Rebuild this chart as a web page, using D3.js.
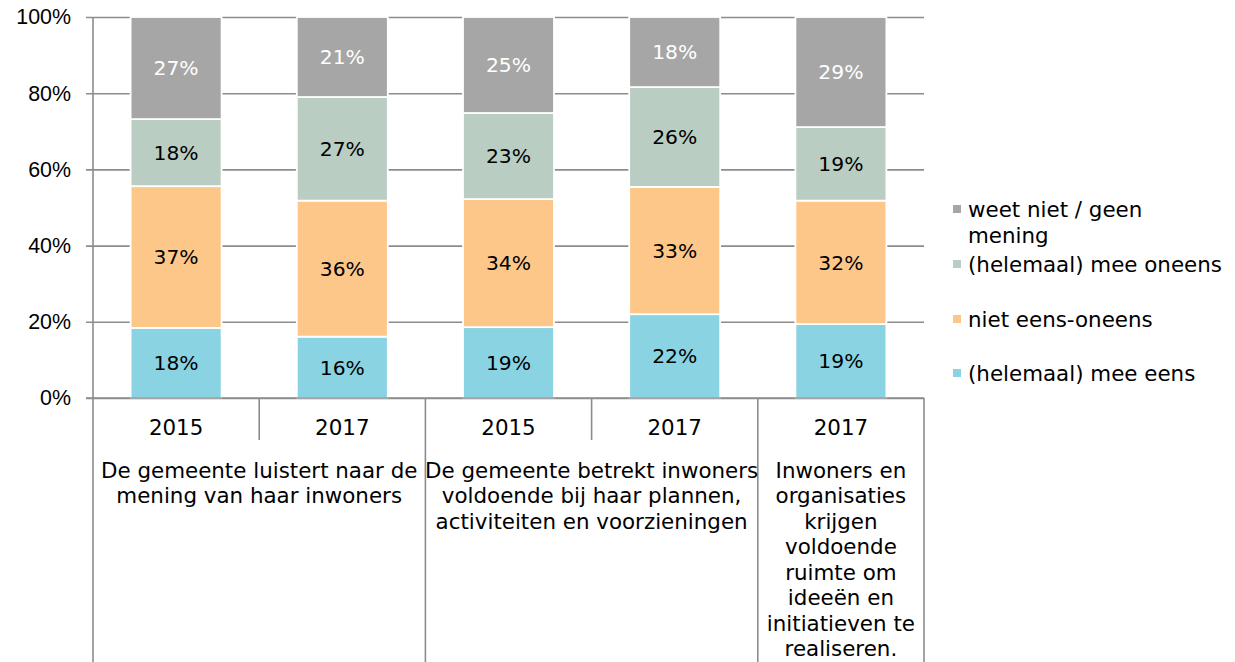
<!DOCTYPE html>
<html>
<head>
<meta charset="utf-8">
<script src="https://cdn.jsdelivr.net/npm/d3@7"></script>
<style>
  html, body { margin: 0; padding: 0; background: #fff; }
  svg { display: block; font-family: "DejaVu Sans", Verdana, sans-serif; }
</style>
</head>
<body>
<svg id="chart" width="1235" height="662"></svg>
<script>
// Survey answers per bar (percentages), bottom to top in the stack
const years = ["2015", "2017", "2015", "2017", "2017"];
const groupOf = [0, 0, 1, 1, 2];
const groupLines = [
  ["De gemeente luistert naar de", "mening van haar inwoners"],
  ["De gemeente betrekt inwoners", "voldoende bij haar plannen,", "activiteiten en voorzieningen"],
  ["Inwoners en", "organisaties", "krijgen", "voldoende", "ruimte om", "ideeën en", "initiatieven te", "realiseren."]
];
const eens      = [18.4, 16.1, 18.6, 22.0, 19.4];
const neutraal  = [37.2, 35.7, 33.6, 33.4, 32.4];
const oneens    = [17.6, 27.2, 22.6, 26.2, 19.3];
const weetNiet  = [26.8, 21.0, 25.2, 18.4, 28.9];
const seriesNames = ["(helemaal) mee eens", "niet eens-oneens", "(helemaal) mee oneens", "weet niet / geen mening"];
const seriesColors = ["#89d3e3", "#fec78a", "#b9cdc2", "#a6a6a6"];
const labelColors = ["#000", "#000", "#000", "#fff"];
const yTicks = [0, 20, 40, 60, 80, 100];

const svg = d3.select("#chart");
const plotL = 93, plotR = 924, plotT = 17, plotB = 398;
const gridColor = "#8c8c8c";
const fs = 21.4;

const x = d3.scaleBand().domain(d3.range(years.length)).range([plotL, plotR]).paddingInner(0).paddingOuter(0);
const y = d3.scaleLinear().domain([0, 100]).range([plotB, plotT]);

const rows = years.map((yr, i) => ({ i, s0: eens[i], s1: neutraal[i], s2: oneens[i], s3: weetNiet[i] }));
const stack = d3.stack().keys(["s0", "s1", "s2", "s3"])(rows);

// horizontal gridlines with left tick marks
const yAxis = d3.axisLeft(y).tickValues(yTicks).tickFormat(d => d + "%").tickSize(-(plotR - plotL));
const ga = svg.append("g").attr("transform", `translate(${plotL},0)`).call(yAxis);
ga.select(".domain").remove();
ga.selectAll(".tick line").attr("stroke", gridColor).attr("stroke-width", 1.6).attr("x1", -7);
ga.selectAll(".tick text").attr("font-size", fs).attr("fill", "#000").attr("x", -22);

// vertical axis line
svg.append("line").attr("x1", plotL).attr("x2", plotL).attr("y1", plotT).attr("y2", plotB)
  .attr("stroke", gridColor).attr("stroke-width", 1.6);

// stacked bars
const barW = 91;
const layers = svg.append("g").selectAll("g").data(stack).join("g")
  .attr("fill", (d, k) => seriesColors[k]);
layers.selectAll("rect").data(d => d).join("rect")
  .attr("x", (d, i) => x(i) + x.bandwidth() / 2 - barW / 2)
  .attr("width", barW)
  .attr("y", d => y(d[1]))
  .attr("height", d => y(d[0]) - y(d[1]))
  .attr("stroke", "#fff").attr("stroke-width", 1.8);

// value labels
stack.forEach((layer, k) => {
  svg.append("g").selectAll("text").data(layer).join("text")
    .attr("x", (d, i) => x(i) + x.bandwidth() / 2)
    .attr("y", d => y((d[0] + d[1]) / 2))
    .attr("dy", "0.36em")
    .attr("text-anchor", "middle")
    .attr("font-size", 20.3)
    .attr("fill", labelColors[k])
    .text(d => Math.round(d[1] - d[0]) + "%");
});

// baseline
svg.append("line").attr("x1", plotL - 7).attr("x2", plotR).attr("y1", plotB).attr("y2", plotB)
  .attr("stroke", gridColor).attr("stroke-width", 1.6);

// category axis: years and group separators
const sep = svg.append("g").attr("stroke", gridColor).attr("stroke-width", 1.6);
years.forEach((yr, i) => {
  svg.append("text").attr("x", x(i) + x.bandwidth() / 2).attr("y", 427).attr("dy", "0.36em")
    .attr("text-anchor", "middle").attr("font-size", fs).text(yr);
});
for (let i = 0; i <= years.length; i++) {
  const xp = i < years.length ? x(i) : plotR;
  const major = i === 0 || i === years.length || groupOf[i] !== groupOf[i - 1];
  sep.append("line").attr("x1", xp).attr("x2", xp).attr("y1", plotB).attr("y2", major ? 662 : 440);
}

// group labels
groupLines.forEach((lines, g) => {
  const idx = d3.range(years.length).filter(i => groupOf[i] === g);
  const x0 = x(idx[0]), x1 = x(idx[idx.length - 1]) + x.bandwidth();
  const t = svg.append("text").attr("text-anchor", "middle").attr("font-size", fs);
  lines.forEach((ln, j) => {
    t.append("tspan").attr("x", (x0 + x1) / 2).attr("y", 470 + j * 25.5).attr("dy", "0.36em").text(ln);
  });
});

// legend (top series first)
const legendItems = [
  { k: 3, lines: ["weet niet / geen", "mening"], y: 209 },
  { k: 2, lines: ["(helemaal) mee oneens"], y: 264 },
  { k: 1, lines: ["niet eens-oneens"], y: 319 },
  { k: 0, lines: ["(helemaal) mee eens"], y: 373 }
];
const lg = svg.append("g");
legendItems.forEach(it => {
  lg.append("rect").attr("x", 953).attr("y", it.y - 4).attr("width", 8).attr("height", 8)
    .attr("fill", seriesColors[it.k]);
  const t = lg.append("text").attr("font-size", fs).attr("fill", "#000");
  it.lines.forEach((ln, j) => {
    t.append("tspan").attr("x", 968).attr("y", it.y + j * 26).attr("dy", "0.36em").text(ln);
  });
});
</script>
</body>
</html>
